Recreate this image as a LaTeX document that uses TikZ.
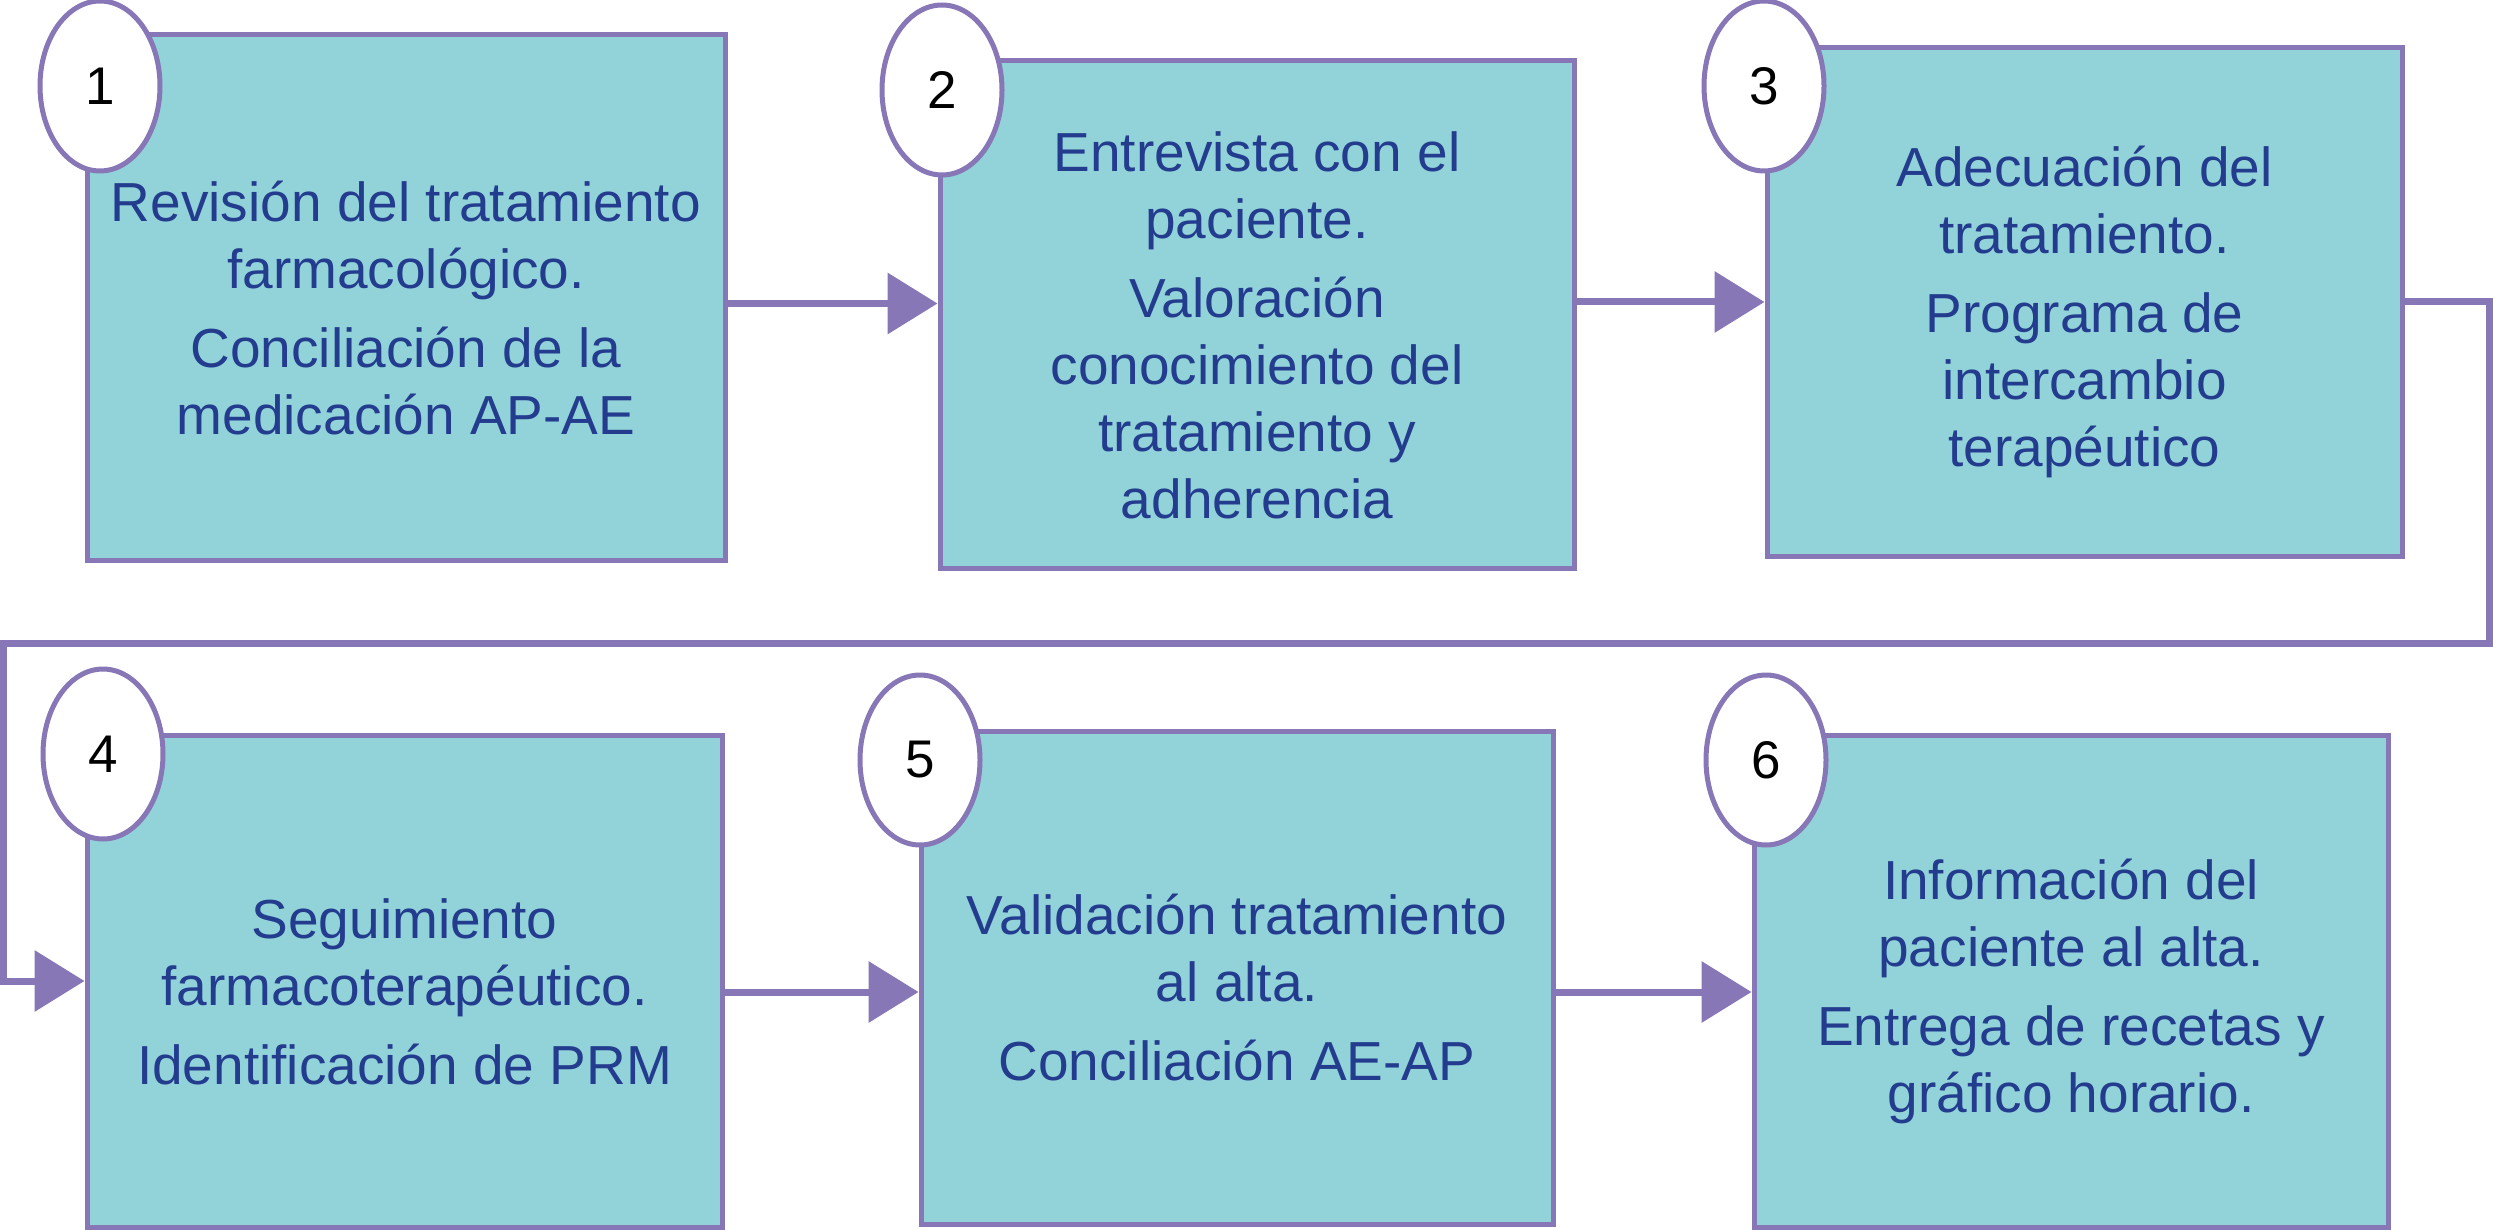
\documentclass[tikz,border=0pt]{standalone}
\usepackage{fontspec}
\setmainfont{Liberation Sans}
\usepackage{tikz}
\usetikzlibrary{arrows.meta,shapes}
\definecolor{boxFill}{HTML}{92D3DA}
\definecolor{boxEdge}{HTML}{8877B7}
\definecolor{boxText}{HTML}{233C8E}
\newcommand{\lineLift}{\rule{0pt}{61pt}}

\begin{document}
\begin{tikzpicture}[x=1pt,y=-1pt,shape=rectangle,>={Triangle[length=50pt,width=60pt]},
stage/.style={draw=boxEdge, fill=boxFill, line width=5pt, text=boxText,
align=center, inner sep=0pt, font=\fontsize{55}{67}\selectfont},
numberOval/.style={draw=boxEdge, fill=white, shape=ellipse, line width=5pt,
minimum width=120pt, minimum height=170pt, inner sep=0pt,
font=\fontsize{53}{60}\selectfont},
link/.style={->, draw=boxEdge, line width=7pt}]
\useasboundingbox (0,0) rectangle (2493,1230);

\node (review) [stage, minimum width=638pt, minimum height=525pt] at (406,297.5)
{\lineLift Revisión del tratamiento\\ farmacológico.\\[12pt]
Conciliación de la\\ medicación AP-AE};
\node (interview) [stage, minimum width=634pt, minimum height=507pt,
node distance=851pt, right of=review, yshift=-17pt]
{\lineLift Entrevista con el\\ paciente.\\[12pt]
Valoración\\ conocimiento del\\ tratamiento y\\ adherencia};
\node (adjust) [stage, minimum width=635pt, minimum height=508pt,
node distance=827.5pt, right of=interview, yshift=12.5pt]
{\lineLift Adecuación del\\ tratamiento.\\[12pt]
Programa de\\ intercambio\\ terapéutico};
\node (followup) [stage, minimum width=635pt, minimum height=492pt,
node distance=683.5pt, below of=review, xshift=-1.5pt]
{\lineLift Seguimiento\\ farmacoterapéutico.\\[12pt]
Identificación de PRM};
\node (validate) [stage, minimum width=632pt, minimum height=493pt,
node distance=832.5pt, right of=followup, yshift=3.5pt]
{\lineLift Validación tratamiento\\ al alta.\\[12pt]
Conciliación AE-AP};
\node (inform) [stage, minimum width=634pt, minimum height=492pt,
node distance=834pt, right of=validate, yshift=-3.5pt]
{\lineLift Información del\\ paciente al alta.\\[12pt]
Entrega de recetas y\\ gráfico horario.};

\node (num1) [numberOval] at (100,86) {1};
\node (num2) [numberOval] at (942,90) {2};
\node (num3) [numberOval] at (1764,86) {3};
\node (num4) [numberOval] at (103,754) {4};
\node (num5) [numberOval] at (920,760) {5};
\node (num6) [numberOval] at (1766,760) {6};

\coordinate (out12) at ([yshift=-6pt]review.east);
\draw[link] (out12) -- (out12 -| interview.west);
\draw[link] (adjust.west -| interview.east) -- (adjust.west);
\coordinate (turnRight) at (2489,643);
\coordinate (turnLeft) at (3,643);
\draw[link] (adjust.east) -| (turnRight) -- (turnLeft) |- (followup.west);
\coordinate (out45) at ([yshift=-11pt]followup.east);
\draw[link] (out45) -- (out45 -| validate.west);
\coordinate (out56) at ([yshift=-14.5pt]validate.east);
\draw[link] (out56) -- (out56 -| inform.west);
\end{tikzpicture}
\end{document}
